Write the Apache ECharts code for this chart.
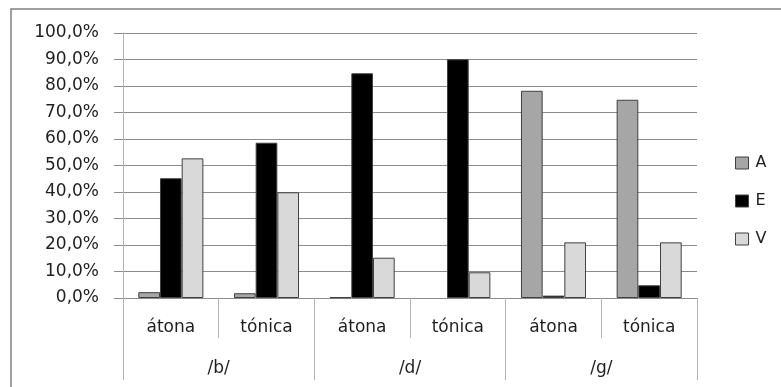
<!DOCTYPE html>
<html>
<head>
<meta charset="utf-8">
<style>
  html, body { margin: 0; padding: 0; background: #fff; }
  #chart { width: 781px; height: 387px; }
</style>
<script src="https://cdn.jsdelivr.net/npm/echarts@6/dist/echarts.min.js"></script>
</head>
<body>
<div id="chart"></div>
<script>
// Stress position within each consonant group
const stressLabels = ['átona', 'tónica', 'átona', 'tónica', 'átona', 'tónica'];
// Consonant groups (each spans two stress categories)
const consonants = ['/b/', '/d/', '/g/'];
// Percentages per series, in the order of stressLabels
const seriesA = [2.2, 1.8, 0.3, 0, 78.2, 74.8];
const seriesE = [45.2, 58.6, 84.8, 90.1, 0.9, 4.8];
const seriesV = [52.7, 39.9, 15.2, 9.7, 21.0, 21.0];
// Y axis range
const yMin = 0, yMax = 100, yStep = 10;

const FONT = 'DejaVu Sans';
const TEXT = '#1f1f1f';
const LINE = '#8c8c8c';
const SEP = '#b4b4b4';

const chart = echarts.init(document.getElementById('chart'));

const barStyle = (fill) => ({ color: fill, borderColor: '#404040', borderWidth: 1 });
// Zero-height bars get no outline so nothing is drawn for them
const barData = (values) => values.map(v => v === 0 ? { value: v, itemStyle: { borderWidth: 0 } } : v);

chart.setOption({
  animation: false,
  textStyle: { fontFamily: FONT },
  graphic: [{
    type: 'rect',
    shape: { x: 11, y: 9, width: 800, height: 400 },
    style: { fill: 'none', stroke: '#7f7f7f', lineWidth: 1.5 },
    silent: true
  }],
  grid: { left: 123, right: 84, top: 33, bottom: 89 },
  legend: {
    orient: 'vertical',
    left: 730, top: 149,
    icon: 'rect',
    itemWidth: 13, itemHeight: 12,
    itemGap: 20,
    itemStyle: { borderColor: '#404040', borderWidth: 1 },
    textStyle: { fontFamily: FONT, fontSize: 16, color: TEXT, lineHeight: 18, padding: [0, 0, 0, 2] },
    data: ['A', 'E', 'V']
  },
  xAxis: [{
    type: 'category',
    data: stressLabels,
    position: 'bottom',
    axisLine: { lineStyle: { color: LINE, width: 1 } },
    axisTick: { show: true, length: 40, lineStyle: { color: SEP, width: 1 } },
    axisLabel: { margin: 21, fontFamily: FONT, fontSize: 17, color: TEXT }
  }, {
    type: 'category',
    data: consonants,
    position: 'bottom',
    axisLine: { show: false },
    axisTick: { show: true, length: 82, lineStyle: { color: SEP, width: 1 } },
    axisLabel: { margin: 62, fontFamily: FONT, fontSize: 17, color: TEXT }
  }],
  yAxis: {
    type: 'value',
    min: yMin, max: yMax, interval: yStep,
    axisLine: { show: true, lineStyle: { color: SEP, width: 1 } },
    axisTick: { show: true, length: 9, lineStyle: { color: LINE } },
    axisLabel: {
      margin: 24, fontFamily: FONT, fontSize: 17, color: TEXT,
      formatter: (v) => v.toFixed(1).replace('.', ',') + '%'
    },
    splitLine: { lineStyle: { color: LINE, width: 1 } }
  },
  series: [
    { name: 'A', type: 'bar', data: barData(seriesA), barGap: '0%', barCategoryGap: '32%', itemStyle: barStyle('#a6a6a6') },
    { name: 'E', type: 'bar', data: barData(seriesE), barGap: '0%', barCategoryGap: '32%', itemStyle: barStyle('#000000') },
    { name: 'V', type: 'bar', data: barData(seriesV), barGap: '0%', barCategoryGap: '32%', itemStyle: barStyle('#d9d9d9') }
  ]
});
</script>
</body>
</html>
